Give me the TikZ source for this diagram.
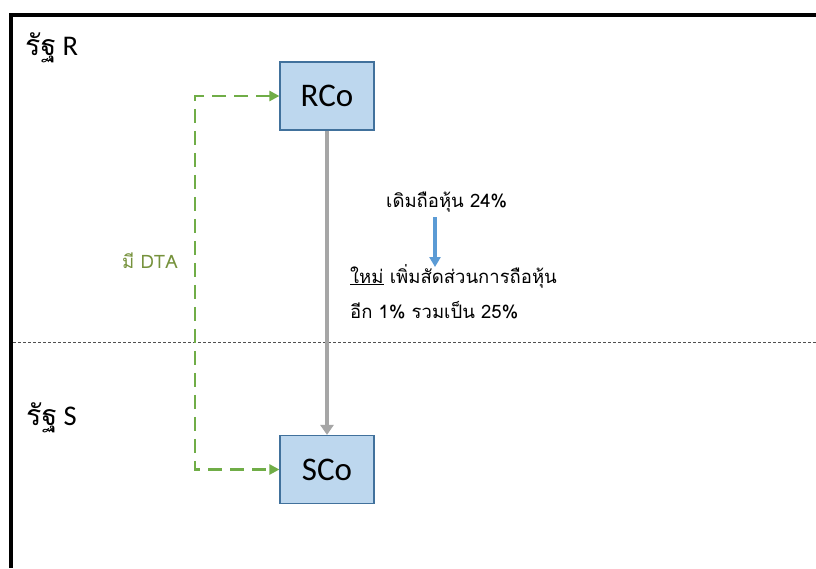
\documentclass[tikz,border=0pt]{standalone}
\usepackage{fontspec}
\setmainfont{Carlito}
\newfontfamily\thaifont[Script=Thai]{Loma}
\usetikzlibrary{arrows.meta}
\definecolor{boxfill}{RGB}{189,215,238}
\definecolor{boxline}{RGB}{65,113,156}
\definecolor{grayarr}{RGB}{166,166,166}
\definecolor{greenarr}{RGB}{112,173,71}
\definecolor{greentext}{RGB}{118,146,60}
\definecolor{bluearr}{RGB}{91,155,213}
\definecolor{sepline}{RGB}{80,80,80}
\tikzset{
  cobox/.style={draw=boxline, line width=1.2pt, fill=boxfill, minimum width=94pt, minimum height=68pt, inner sep=0pt, font=\fontsize{33}{36}\selectfont},
  statelabel/.style={anchor=base west, inner sep=0pt, font=\fontsize{28.5}{31}\selectfont},
  thaitext/.style={anchor=base west, inner sep=0pt, font=\thaifont\fontsize{18.5}{22}\selectfont},
  gconn/.style={draw=greenarr, line width=2.5pt, dash pattern=on 14pt off 8pt, {Triangle[length=10pt,width=10pt]}-{Triangle[length=10pt,width=10pt]}},
  grayconn/.style={draw=grayarr, line width=4pt, -{Triangle[length=10pt,width=13pt]}},
  blueconn/.style={draw=bluearr, line width=3.5pt, -{Triangle[length=10pt,width=11pt]}},
}
\begin{document}
\begin{tikzpicture}[x=1pt,y=-1pt]
\useasboundingbox (0,0) rectangle (816,568);
\fill[white] (0,0) rectangle (816,568);
% frame
\draw[line width=4pt] (11,568) -- (11,15) -- (816,15);
% separator
\draw[sepline, line width=1pt, dash pattern=on 3pt off 2pt] (13,342) -- (816,342);
% state labels
\node[statelabel] (stR) at (25,55) {{\thaifont รัฐ} R};
\node[statelabel] (stS) at (26,425) {{\thaifont รัฐ} S};
% boxes
\node[cobox] (RCo) at (327,96) {RCo};
\node[cobox] (SCo) at (327,469.5) {SCo};
% gray arrow
\draw[grayconn] (RCo.south) -- (SCo.north);
% green dashed connector
\coordinate (g1) at (195,96);
\coordinate (g2) at (195,469.5);
\draw[gconn] (RCo.west) -- (g1) -- (g2) -- (SCo.west);
\node[thaitext, text=greentext] (dta) at (122,268) {มี DTA};
% texts
\node[thaitext] (old) at (386,207) {เดิมถือหุ้น 24\%};
\coordinate (b1) at (435,217);
\coordinate (b2) at (435,267);
\draw[blueconn] (b1) -- (b2);
\node[thaitext] (new1) at (350,283) {\underline{ใหม่} เพิ่มสัดส่วนการถือหุ้น};
\node[thaitext] (new2) at (350,318) {อีก 1\% รวมเป็น 25\%};
\end{tikzpicture}
\end{document}
